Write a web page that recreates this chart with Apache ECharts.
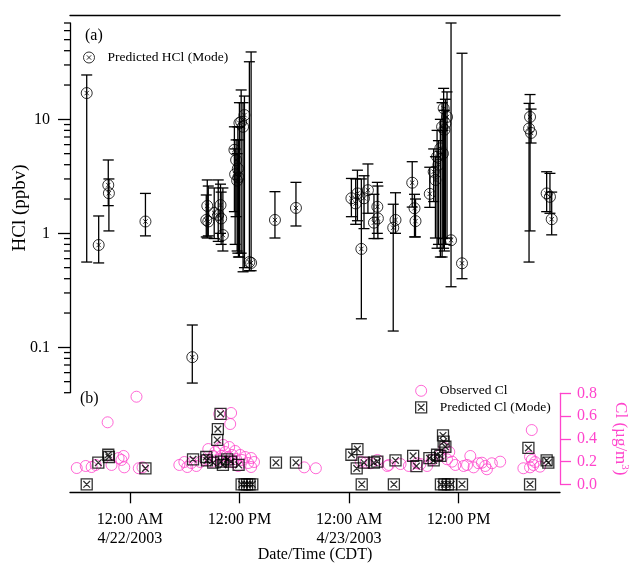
<!DOCTYPE html>
<html><head><meta charset="utf-8">
<script src="https://cdn.jsdelivr.net/npm/echarts@6/dist/echarts.min.js"></script>
<style>html,body{margin:0;padding:0;background:#fff}#c{width:635px;height:563px}</style>
</head><body><div id="c"></div>
<script>
// time in hours relative to 4/22/2003 00:00 CDT
const hclTime  = [-4.72,-3.41,-2.36,-2.29,1.71,6.84,8.48,8.37,8.59,9.24,9.68,9.93,10.19,10.00,11.45,11.64,11.83,11.89,12.00,12.19,12.40,12.55,11.53,11.75,13.09,13.28,15.89,18.19,24.26,24.92,24.73,25.35,25.64,26.07,27.10,27.16,26.73,29.09,28.84,30.92,31.17,31.28,32.84,33.27,33.46,33.64,34.00,34.19,34.36,34.73,34.55,34.44,34.28,33.79,35.17,36.37,43.82,43.71,43.93,45.64,46.00,46.19];
const hclValue = [17.0,0.79,2.65,2.25,1.27,0.082,1.74,1.31,1.27,1.51,1.45,1.77,0.966,1.35,5.4,4.4,3.7,3.1,9.3,9.5,8.6,10.9,3.3,2.9,0.56,0.55,1.31,1.67,2.03,2.24,1.83,0.73,2.03,2.39,1.71,1.35,1.24,1.31,1.12,2.78,1.66,1.28,2.22,3.47,2.94,4.7,5.57,8.6,12.5,10.5,9.2,8.1,5.0,4.0,0.87,0.546,10.5,8.3,7.6,2.24,2.09,1.33];
const hclLow   = [0.56,0.55,1.75,1.05,0.95,0.0486,0.91,0.93,0.95,0.9,0.85,1.0,0.70,0.8,1.55,1.4,0.67,0.62,0.62,0.67,0.46,0.5,0.8,0.7,0.47,0.47,0.91,1.16,1.40,1.29,1.2,0.178,1.1,1.5,1.0,0.9,0.9,1.0,0.139,1.7,0.93,0.93,1.69,1.9,0.91,0.74,0.62,0.62,0.74,0.91,0.8,0.7,0.9,0.8,0.34,0.40,1.05,0.56,6.2,1.55,1.5,0.97];
const hclHigh  = [24.5,1.42,4.4,3.0,2.24,0.157,2.94,2.17,2.6,2.5,2.94,2.7,2.5,2.3,8.6,6.6,8.6,6.6,14,18.1,14,16,5.5,5.0,32,39,2.32,2.8,3.03,3.58,3.0,3.0,3.2,4.06,2.8,2.6,2.2,2.27,1.8,4.25,2.2,2.0,3.8,5.5,4.7,8.0,10,14,18.7,17.4,15,12,8,6.5,70,38,16.5,13.8,12.3,3.47,3.36,2.3];

const predClTime  = [-4.72,-3.45,-2.36,-2.29,1.71,6.92,8.37,8.44,9.13,9.57,9.64,9.93,10.00,10.19,10.66,11.09,11.91,12.24,12.57,12.84,13.11,13.41,16.00,18.19,24.26,24.92,24.84,25.39,25.64,26.73,27.10,29.09,28.91,31.02,31.38,32.80,33.27,33.64,34.00,34.29,34.36,34.55,34.06,34.44,34.82,35.20,36.37,43.64,43.82,45.64,45.82];
const predClValue = [0.0,0.19,0.26,0.24,0.14,0.22,0.24,0.21,0.19,0.39,0.485,0.62,0.20,0.17,0.22,0.20,0.17,0.0,0.0,0.0,0.0,0.0,0.19,0.19,0.26,0.31,0.14,0.0,0.19,0.19,0.20,0.21,0.0,0.25,0.16,0.23,0.21,0.26,0.25,0.43,0.375,0.33,0.0,0.0,0.0,0.0,0.0,0.32,0.0,0.21,0.19];

const obsClTime  = [-5.81,-4.83,-4.18,-3.74,-2.43,-2.00,-1.23,-0.91,-0.69,-0.61,0.73,0.98,1.39,5.42,5.97,6.29,6.73,7.28,7.71,8.26,8.59,8.91,9.13,9.35,9.57,9.79,9.79,10.00,10.22,10.44,10.55,10.77,10.88,10.99,11.09,11.20,11.31,11.53,11.64,11.86,12.08,12.29,12.62,12.95,13.28,13.28,13.60,19.09,20.37,25.28,25.82,26.37,27.10,28.19,28.36,29.64,30.55,31.46,31.82,32.55,33.10,34.00,34.44,34.73,34.98,35.28,35.64,36.55,36.92,37.28,37.64,38.18,38.55,38.91,39.10,39.64,40.55,43.09,43.82,43.82,44.01,44.01,44.18,44.37,44.91];
const obsClValue = [0.143,0.161,0.152,0.170,0.545,0.170,0.231,0.214,0.249,0.149,0.770,0.141,0.149,0.170,0.196,0.152,0.187,0.161,0.196,0.214,0.310,0.196,0.249,0.284,0.214,0.618,0.319,0.249,0.346,0.284,0.196,0.240,0.328,0.530,0.627,0.258,0.196,0.293,0.222,0.161,0.258,0.214,0.240,0.187,0.231,0.152,0.196,0.149,0.141,0.199,0.190,0.185,0.214,0.161,0.170,0.178,0.161,0.185,0.178,0.161,0.214,0.258,0.319,0.220,0.284,0.199,0.170,0.161,0.170,0.249,0.149,0.185,0.190,0.161,0.132,0.185,0.199,0.141,0.243,0.149,0.477,0.214,0.170,0.196,0.155];

const xTickHours  = [0, 12, 24, 36];
const xTickLabels = ['12:00 AM\n4/22/2003', '12:00 PM', '12:00 AM\n4/23/2003', '12:00 PM'];
const hclMajorTicks = [0.1, 1, 10];
const hclMinorTicks = [0.04,0.05,0.06,0.07,0.08,0.09,0.2,0.3,0.4,0.5,0.6,0.7,0.8,0.9,2,3,4,5,6,7,8,9,20,30,40,50,60,70];

const X_MIN = -6.55, X_MAX = 47.1;
const PINK = '#ff44cc';
const FONT = 'Liberation Serif';

const chart = echarts.init(document.getElementById('c'), null, {renderer: 'canvas'});

const hclSymbol = 'path://M10,0 A10,10 0 1,1 -10,0 A10,10 0 1,1 10,0 Z M-4,-4 L4,4 M4,-4 L-4,4';
const sqSymbol = 'path://M0,0 L10,0 L10,10 L0,10 Z M2,2 L8,8 M8,2 L2,8';

const xLabelMap = {};
xTickHours.forEach((h, i) => { xLabelMap[h] = xTickLabels[i]; });

const noFill = 'rgba(0,0,0,0)';

const option = {
  animation: false,
  backgroundColor: '#fff',
  textStyle: {fontFamily: FONT},
  grid: [
    {left: 70, width: 490, top: 23, height: 369.7, outerBoundsMode: 'none', containLabel: false},
    {left: 70, width: 490, top: 393.3, height: 91, outerBoundsMode: 'none', containLabel: false}
  ],
  xAxis: [
    {type: 'value', gridIndex: 0, min: X_MIN, max: X_MAX, position: 'top', offset: 8,
     axisLine: {show: true, onZero: false, lineStyle: {color: '#000', width: 1.3}},
     axisTick: {show: false}, axisLabel: {show: false}, splitLine: {show: false}},
    {type: 'value', gridIndex: 1, min: X_MIN, max: X_MAX, position: 'bottom', offset: 8,
     name: 'Date/Time (CDT)', nameLocation: 'middle', nameGap: 54, nameMoveOverlap: false,
     nameTextStyle: {fontFamily: FONT, fontSize: 16, color: '#000'},
     axisLine: {show: true, onZero: false, lineStyle: {color: '#000', width: 1.3}},
     axisTick: {show: true, customValues: xTickHours, length: 11, lineStyle: {color: '#000', width: 1.3}},
     axisLabel: {show: true, customValues: xTickHours, margin: 18, fontFamily: FONT, fontSize: 16, lineHeight: 19, color: '#000',
       formatter: v => xLabelMap[v] !== undefined ? xLabelMap[v] : ''},
     splitLine: {show: false}}
  ],
  yAxis: [
    {type: 'log', logBase: 10, gridIndex: 0, min: 0.04, max: 70, position: 'left',
     name: 'HCl (ppbv)', nameLocation: 'middle', nameGap: 40, nameRotate: 90, nameMoveOverlap: false,
     nameTextStyle: {fontFamily: FONT, fontSize: 19, color: '#000'},
     axisLine: {show: true, onZero: false, lineStyle: {color: '#000', width: 1.3}},
     axisTick: {show: true, customValues: hclMajorTicks, length: 12, lineStyle: {color: '#000', width: 1.3}},
     axisLabel: {show: true, customValues: hclMajorTicks, margin: 20, fontFamily: FONT, fontSize: 16, color: '#000',
       formatter: v => String(v)},
     splitLine: {show: false}, minorTick: {show: false}},
    {type: 'value', gridIndex: 1, min: 0, max: 0.8, interval: 0.2, position: 'right',
     name: '{a|Cl (µg/m}{s|3}{a|)}', nameLocation: 'middle', nameGap: 50, nameRotate: -90, nameMoveOverlap: false,
     nameTextStyle: {color: PINK, rich: {
       a: {fontFamily: FONT, fontSize: 17, color: PINK, lineHeight: 20},
       s: {fontFamily: FONT, fontSize: 11, color: PINK, verticalAlign: 'top', lineHeight: 20}
     }},
     axisLine: {show: true, onZero: false, lineStyle: {color: PINK, width: 1.3}},
     axisTick: {show: true, length: 11, lineStyle: {color: PINK, width: 1.3}},
     axisLabel: {show: true, margin: 17, fontFamily: FONT, fontSize: 16, color: PINK, formatter: v => v.toFixed(1)},
     splitLine: {show: false}}
  ],
  legend: [
    {data: [{name: 'Predicted HCl (Mode)', icon: hclSymbol,
             itemStyle: {color: noFill, borderColor: '#000', borderWidth: 1}}],
     left: 83, top: 50.5, padding: 0, itemWidth: 11, itemHeight: 11, selectedMode: false,
     textStyle: {fontFamily: FONT, fontSize: 13.5, color: '#000', padding: [0, 0, 0, 8]}},
    {data: [{name: 'Observed Cl', icon: 'circle', itemStyle: {color: noFill, borderColor: PINK, borderWidth: 1}},
            {name: 'Predicted Cl (Mode)', icon: sqSymbol, itemStyle: {color: noFill, borderColor: '#000', borderWidth: 1.3}}],
     orient: 'vertical', left: 415, top: 383.8, padding: 0, itemWidth: 11, itemHeight: 11,
     itemGap: 2.5, selectedMode: false,
     textStyle: {fontFamily: FONT, fontSize: 13.5, color: '#000', padding: [0, 0, 0, 8]}}
  ],
  graphic: [
    {type: 'text', left: 85, top: 28, style: {text: '(a)', font: '16px "Liberation Serif"', fill: '#000'}},
    {type: 'text', left: 80, top: 391, style: {text: '(b)', font: '16px "Liberation Serif"', fill: '#000'}}
  ],
  series: [
    {
      type: 'custom', name: 'hclErr', xAxisIndex: 0, yAxisIndex: 0, silent: true, clip: false, z: 2,
      data: hclTime.map((t, i) => [t, hclLow[i], hclHigh[i]]),
      encode: {x: 0, y: [1, 2]},
      renderItem: (params, api) => {
        const x = api.value(0);
        const lo = api.coord([x, api.value(1)]);
        const hi = api.coord([x, api.value(2)]);
        const w = 5.5;
        const st = {stroke: '#000', lineWidth: 1.3};
        return {type: 'group', children: [
          {type: 'line', shape: {x1: lo[0], y1: lo[1], x2: hi[0], y2: hi[1]}, style: st},
          {type: 'line', shape: {x1: lo[0] - w, y1: lo[1], x2: lo[0] + w, y2: lo[1]}, style: st},
          {type: 'line', shape: {x1: hi[0] - w, y1: hi[1], x2: hi[0] + w, y2: hi[1]}, style: st}
        ]};
      }
    },
    {
      type: 'scatter', name: 'Predicted HCl (Mode)', xAxisIndex: 0, yAxisIndex: 0, z: 3,
      symbol: hclSymbol, symbolSize: 11,
      itemStyle: {color: noFill, borderColor: '#000', borderWidth: 1},
      data: hclTime.map((t, i) => [t, hclValue[i]])
    },
    {
      type: 'custom', name: 'minorTicks', xAxisIndex: 0, yAxisIndex: 0, silent: true, clip: false, z: 1,
      data: hclMinorTicks.map(v => [X_MIN, v]),
      renderItem: (params, api) => {
        const p = api.coord([api.value(0), api.value(1)]);
        return {type: 'line', shape: {x1: p[0] - 6, y1: p[1], x2: p[0], y2: p[1]}, style: {stroke: '#000', lineWidth: 1.3}};
      }
    },
    {
      type: 'scatter', name: 'Observed Cl', xAxisIndex: 1, yAxisIndex: 1, z: 3,
      symbol: 'circle', symbolSize: 11,
      itemStyle: {color: noFill, borderColor: PINK, borderWidth: 1},
      data: obsClTime.map((t, i) => [t, obsClValue[i]])
    },
    {
      type: 'scatter', name: 'Predicted Cl (Mode)', xAxisIndex: 1, yAxisIndex: 1, z: 4,
      symbol: sqSymbol, symbolSize: 11,
      itemStyle: {color: noFill, borderColor: '#000', borderWidth: 1.3},
      data: predClTime.map((t, i) => [t, predClValue[i]])
    }
  ]
};
chart.setOption(option);
</script></body></html>
